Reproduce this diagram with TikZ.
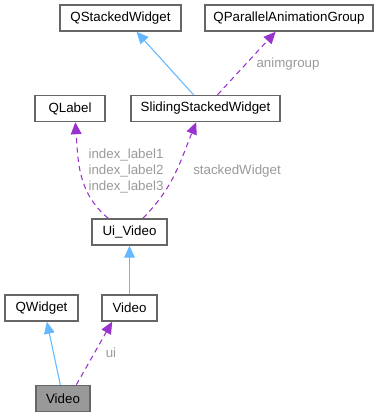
\documentclass[tikz,border=0pt]{standalone}
\usepackage{fontspec}
\setmainfont{Liberation Sans}
\usetikzlibrary{arrows.meta}
\definecolor{inheritblue}{HTML}{63B8FF}
\definecolor{usagepurple}{HTML}{9A32CD}
\definecolor{labelgray}{HTML}{9A9A9A}
\definecolor{boxgray}{HTML}{666666}
\definecolor{currentgray}{HTML}{999999}
\tikzset{
	cls/.style={draw=boxgray, line width=1.1pt, fill=white, minimum height=19.5pt, inner xsep=4pt, font=\fontsize{10}{12}\selectfont},
	inherits/.style={draw=inheritblue, line width=0.8pt, -{Triangle[length=9pt, width=8pt]}},
	uses/.style={draw=usagepurple, line width=0.8pt, dash pattern=on 4pt off 3pt, -{Triangle[length=9pt, width=8pt]}},
	member/.style={text=labelgray, font=\fontsize{10}{12}\selectfont, inner sep=0pt}
}

\begin{document}
\begin{tikzpicture}[x=0.75pt, y=-0.75pt]
						\useasboundingbox (0,0) rectangle (379,417);
						
						\node[cls, minimum width=90.75pt] (qstacked) at (120.5,18) {QStackedWidget};
						\node[cls, minimum width=126pt] (qanim) at (289,18) {QParallelAnimationGroup};
						\node[cls, minimum width=52.5pt] (qlabel) at (70,108.5) {QLabel};
						\node[cls, minimum width=112pt] (sliding) at (205.5,108.5) {SlidingStackedWidget};
						\node[cls, minimum width=56pt] (uivideo) at (129.5,232) {Ui\_Video};
						\node[cls, minimum width=55pt] (qwidget) at (41.5,308) {QWidget};
						\node[cls, minimum width=41pt] (video) at (129.5,308) {Video};
						\node[cls, minimum width=40.5pt, fill=currentgray] (current) at (63,398.5) {Video};
						
						\draw[inherits] ([xshift=-9pt]sliding.north) -- ([xshift=12pt]qstacked.south);
						\draw[uses] ([xshift=9pt]sliding.north) -- ([xshift=-10pt]qanim.south);
						\node[member] (animlbl) at (288,64) {animgroup};
						
						\draw[uses] ([xshift=-16pt]uivideo.north) to[out=140, in=-86] ([xshift=4pt]qlabel.south);
						\node[member, align=center] (indexlbl) at (126,170.5) {index\_label1\\[0pt]index\_label2\\index\_label3};
						\draw[uses] ([xshift=10pt]uivideo.north) to[out=45, in=-112] ([xshift=-7pt]sliding.south);
						\node[member] (stackedlbl) at (237,171) {stackedWidget};
						
						\draw[inherits] (video) -- (uivideo);
						\draw[inherits] ([xshift=-2pt]current.north) -- ([xshift=4pt]qwidget.south);
						\draw[uses] ([xshift=10pt]current.north) -- ([xshift=-13pt]video.south);
						\node[member] (uilbl) at (111,353) {ui};
					\end{tikzpicture}
\end{document}
